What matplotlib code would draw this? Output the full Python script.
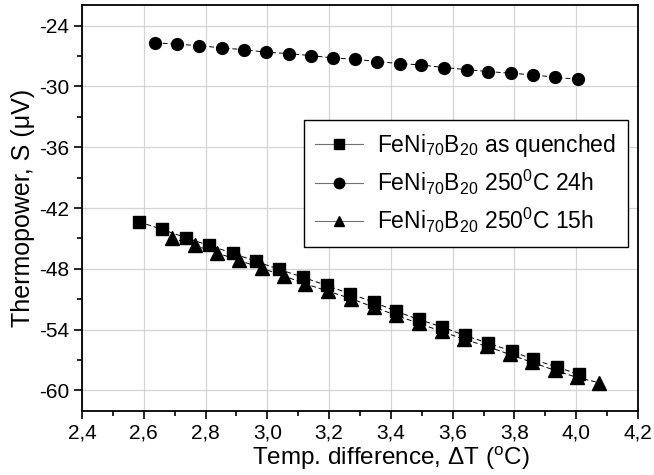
import matplotlib
matplotlib.use("Agg")
import matplotlib.pyplot as plt
from matplotlib.lines import Line2D
from matplotlib.ticker import MultipleLocator, FuncFormatter

plt.rcParams['font.family'] = ['Liberation Sans', 'DejaVu Sans']
plt.rcParams['mathtext.fontset'] = 'custom'
plt.rcParams['mathtext.rm'] = 'Liberation Sans'
plt.rcParams['mathtext.it'] = 'Liberation Sans:italic'
plt.rcParams['axes.unicode_minus'] = False

# as quenched (squares)
dt_quenched = [2.584, 2.660, 2.737, 2.812, 2.888, 2.963, 3.039, 3.114, 3.192, 3.267,
               3.345, 3.416, 3.490, 3.567, 3.639, 3.715, 3.791, 3.861, 3.938, 4.009]
s_quenched = [-43.36, -44.12, -44.94, -45.70, -46.46, -47.27, -48.06, -48.82, -49.64, -50.46,
              -51.29, -52.18, -53.00, -53.75, -54.57, -55.33, -56.12, -56.94, -57.70, -58.42]

# 250C 24h (circles)
dt_24h = [2.636, 2.708, 2.780, 2.852, 2.924, 2.995, 3.069, 3.140, 3.213, 3.284,
          3.356, 3.429, 3.499, 3.572, 3.645, 3.716, 3.788, 3.861, 3.932, 4.005]
s_24h = [-25.68, -25.85, -25.97, -26.21, -26.37, -26.63, -26.76, -26.96, -27.19, -27.32,
         -27.55, -27.75, -27.88, -28.14, -28.34, -28.54, -28.70, -28.86, -29.10, -29.30]

# 250C 15h (triangles)
dt_15h = [2.690, 2.766, 2.836, 2.909, 2.983, 3.055, 3.122, 3.196, 3.271, 3.345,
          3.418, 3.491, 3.565, 3.638, 3.712, 3.785, 3.858, 3.931, 4.002, 4.074]
s_15h = [-44.94, -45.70, -46.42, -47.18, -47.94, -48.72, -49.47, -50.20, -50.95, -51.78,
         -52.60, -53.39, -54.18, -54.97, -55.66, -56.45, -57.24, -58.02, -58.71, -59.24]

labels = [r'FeNi$_{70}$B$_{20}$ as quenched',
          r'FeNi$_{70}$B$_{20}$ 250$^{0}$C 24h',
          r'FeNi$_{70}$B$_{20}$ 250$^{0}$C 15h']

fig = plt.figure(figsize=(6.54, 4.75), dpi=100)
ax = fig.add_axes([0.1254, 0.1354, 0.8501, 0.8534])

ax.grid(True, which='major', color='#d4d4d4', lw=0.9, zorder=0)
ax.set_axisbelow(True)

dash = (0, (5, 3))
ax.plot(dt_quenched, s_quenched, color='black', lw=0.7, ls=dash, marker='s', ms=8.5, zorder=4)
ax.plot(dt_24h, s_24h, color='black', lw=0.7, ls=dash, marker='o', ms=8.5, zorder=4)
ax.plot(dt_15h, s_15h, color='black', lw=0.7, ls=dash, marker='^', ms=9.5, zorder=3)

ax.set_xlim(2.4, 4.2)
ax.set_ylim(-62, -22)
ax.xaxis.set_major_locator(MultipleLocator(0.2))
ax.xaxis.set_minor_locator(MultipleLocator(0.1))
ax.yaxis.set_minor_locator(MultipleLocator(3))
ax.set_yticks([-60, -54, -48, -42, -36, -30, -24])
ax.xaxis.set_major_formatter(FuncFormatter(lambda v, p: f"{v:.1f}".replace('.', ',')))
ax.yaxis.set_major_formatter(FuncFormatter(lambda v, p: f"{v:.0f}"))
ax.tick_params(which='major', direction='out', length=6, width=1.2, labelsize=15,
               colors='black', pad=3)
ax.tick_params(which='minor', direction='out', length=3.5, width=1.2)
for sp in ax.spines.values():
    sp.set_linewidth(1.3)

ax.set_xlabel(r'Temp. difference, $\Delta$T ($^{\rm o}$C)', fontsize=17.5, labelpad=0)
ax.xaxis.set_label_coords(0.555, -0.085)
ax.set_ylabel('Thermopower, S (\u03bcV)', fontsize=18, labelpad=3)

handles = [Line2D([], [], color='#707070', lw=0.8, marker='s', ms=6.5, mfc='black', mec='black'),
           Line2D([], [], color='#707070', lw=0.8, marker='o', ms=7.5, mfc='black', mec='black'),
           Line2D([], [], color='#707070', lw=0.8, marker='^', ms=7.5, mfc='black', mec='black')]
leg = ax.legend(handles, labels, loc='lower left', bbox_to_anchor=(0.399, 0.404),
                borderaxespad=0, fontsize=16.5, fancybox=False, framealpha=1,
                edgecolor='black', handlelength=2.1, handletextpad=0.6,
                labelspacing=0.4, borderpad=0.5)
leg.get_frame().set_linewidth(1.0)

fig.savefig("out.png", dpi=100)
